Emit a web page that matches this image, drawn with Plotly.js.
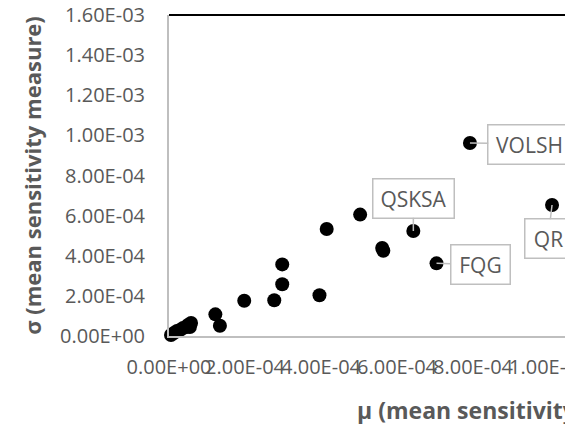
<!DOCTYPE html>
<html>
<head>
<meta charset="utf-8">
<script src="https://cdn.plot.ly/plotly-3.0.1.min.js"></script>
<style>
  html, body { margin: 0; padding: 0; overflow: hidden; background: #fff; }
  #chart { width: 720px; height: 424px; }
</style>
</head>
<body>
<div id="chart"></div>
<script>
// mu (mean sensitivity measure) and sigma values
const muVals = [5.3e-6, 1.3e-5, 2.1e-5, 2.9e-5, 3.7e-5, 4.5e-5, 5.0e-5, 5.8e-5, 5.5e-5,
                1.22e-4, 1.34e-4, 1.98e-4, 2.77e-4, 2.98e-4, 2.98e-4, 3.96e-4,
                4.15e-4, 5.03e-4, 5.61e-4, 5.64e-4, 6.43e-4, 7.04e-4, 7.92e-4, 1.008e-3];
const sigmaVals = [5e-6, 1.5e-5, 2.5e-5, 3.0e-5, 4.0e-5, 4.5e-5, 5.5e-5, 6.5e-5, 4.5e-5,
                   1.08e-4, 5.1e-5, 1.76e-4, 1.78e-4, 2.58e-4, 3.57e-4, 2.03e-4,
                   5.33e-4, 6.05e-4, 4.39e-4, 4.25e-4, 5.23e-4, 3.62e-4, 9.62e-4, 6.53e-4];

// labelled points (callouts)
const calloutNames = ['QSKSA', 'FQG', 'VOLSH', 'QR'];
const calloutIndex = [20, 21, 22, 23];

// axis ticks
const yTickVals = [0, 2e-4, 4e-4, 6e-4, 8e-4, 1e-3, 1.2e-3, 1.4e-3, 1.6e-3];
const yTickText = ['0.00E+00', '2.00E-04', '4.00E-04', '6.00E-04', '8.00E-04',
                   '1.00E-03', '1.20E-03', '1.40E-03', '1.60E-03'];
const xTickVals = [0, 2e-4, 4e-4, 6e-4, 8e-4, 1e-3, 1.2e-3];
const xTickText = ['0.00E+00', '2.00E-04', '4.00E-04', '6.00E-04', '8.00E-04',
                   '1.00E-03', '1.20E-03'];

const xTitle = 'μ (mean sensitivity measure)';
const yTitle = 'σ (mean sensitivity measure)';

const grey = '#595959';
const font = 'Open Sans, Noto Sans, sans-serif';

// callout styling / offsets (pixels)
const calloutStyle = {
  QSKSA: {ax: 0, ay: -33, width: 70},
  FQG:   {ax: 44, ay: 1, width: 48},
  VOLSH: {ax: 60, ay: 1, width: 72},
  QR:    {ax: -4, ay: 34, width: 36}
};

const annotations = calloutNames.map((name, i) => {
  const k = calloutIndex[i];
  const s = calloutStyle[name];
  return {
    x: muVals[k], y: sigmaVals[k], xref: 'x', yref: 'y',
    text: name, showarrow: true, axref: 'pixel', ayref: 'pixel',
    ax: s.ax, ay: s.ay, width: s.width,
    arrowhead: 0, arrowwidth: 1.5, arrowcolor: '#bfbfbf', standoff: 0,
    bgcolor: '#ffffff', bordercolor: '#bfbfbf', borderwidth: 1.5, borderpad: 5,
    font: {family: font, size: 21, color: grey}
  };
});

annotations.push({
  xref: 'x', yref: 'paper', x: 4.89e-4, y: -0.23,
  xanchor: 'left', yanchor: 'middle', showarrow: false,
  text: '<b>' + xTitle + '</b>',
  font: {family: font, size: 23, color: grey}
});

const trace = {
  type: 'scatter', mode: 'markers',
  x: muVals, y: sigmaVals,
  marker: {size: 14, color: '#000000'},
  cliponaxis: false,
  hoverinfo: 'skip'
};

const plotWidthPx = 720 - 169;
const xMax = plotWidthPx / 76 * 2e-4;

const layout = {
  width: 720, height: 424,
  margin: {l: 169, r: 0, t: 15, b: 88},
  paper_bgcolor: '#ffffff', plot_bgcolor: '#ffffff',
  showlegend: false,
  font: {family: font, size: 20, color: grey},
  xaxis: {
    range: [0, xMax], showgrid: false, zeroline: false,
    showline: true, linecolor: '#bfbfbf', linewidth: 2,
    tickvals: xTickVals, ticktext: xTickText, tickangle: 0,
    ticks: '', ticklabelstandoff: 12,
    tickfont: {family: font, size: 20, color: grey}
  },
  yaxis: {
    range: [0, 1.6e-3], showgrid: false, zeroline: false,
    showline: true, linecolor: '#bfbfbf', linewidth: 2,
    tickvals: yTickVals, ticktext: yTickText,
    ticks: '', ticklabelstandoff: 18,
    tickfont: {family: font, size: 20, color: grey},
    title: {text: '<b>' + yTitle + '</b>', standoff: 12,
            font: {family: font, size: 22, color: grey}}
  },
  shapes: [{
    type: 'line', xref: 'paper', yref: 'paper', x0: 0, x1: 1, y0: 1, y1: 1,
    line: {color: '#000000', width: 2}
  }],
  annotations: annotations
};

Plotly.newPlot('chart', [trace], layout, {displayModeBar: false, staticPlot: true});
</script>
</body>
</html>
